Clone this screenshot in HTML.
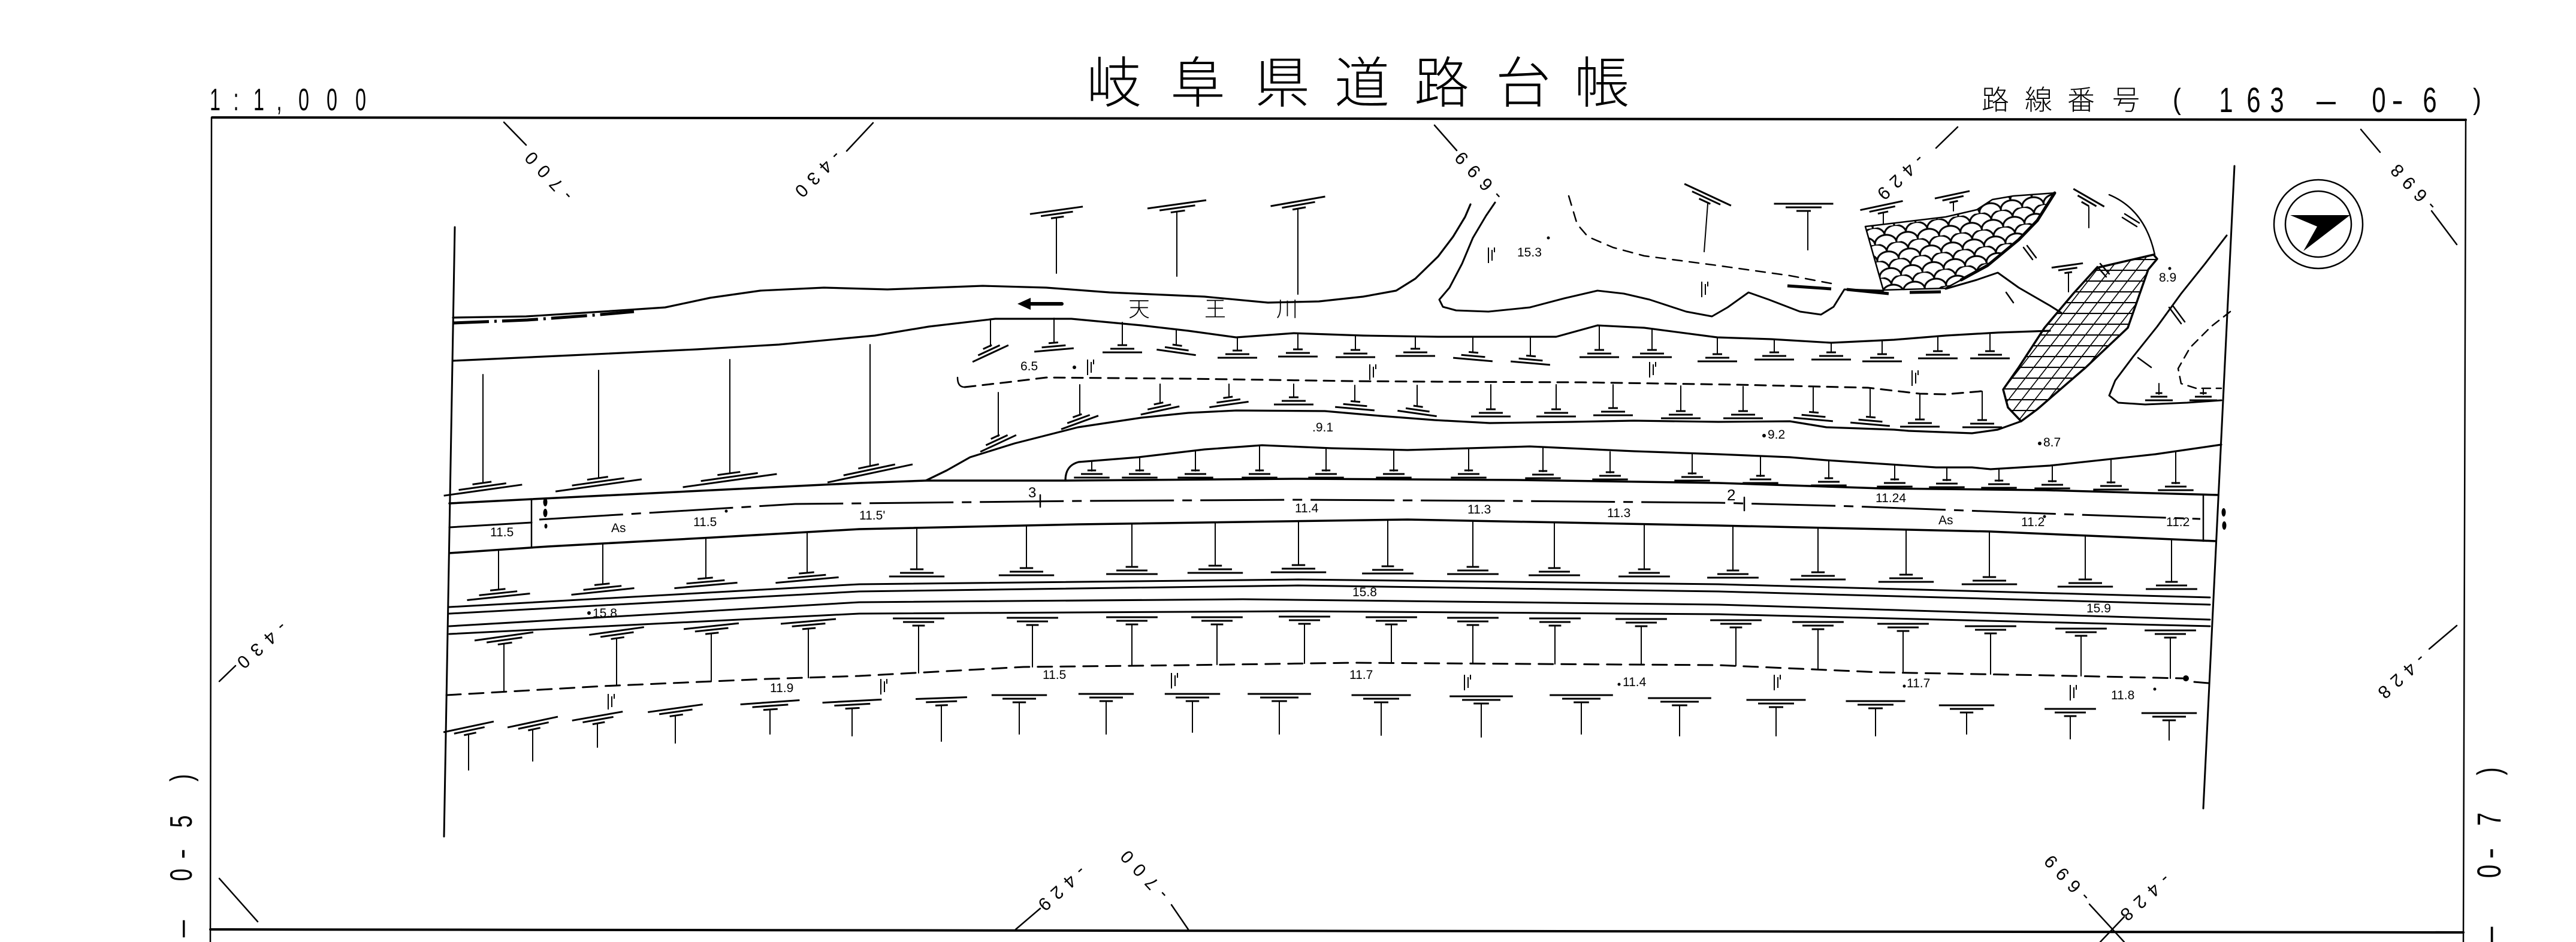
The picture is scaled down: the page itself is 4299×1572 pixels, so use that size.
<!DOCTYPE html>
<html><head><meta charset="utf-8"><style>
html,body{margin:0;padding:0;background:#fff;}
svg{display:block;}
text{font-family:"Liberation Sans","Noto Sans CJK JP",sans-serif;fill:#000;}
.j{font-family:"Noto Sans CJK JP","Liberation Sans",sans-serif;font-weight:300;}
.sm{font-size:21px;}
.tk{font-size:30px;}
</style></head><body>
<svg width="4299" height="1572" viewBox="0 0 4299 1572" xmlns="http://www.w3.org/2000/svg">
<defs>
 <g id="s"><path d="M-33,0H33M-20,-6H20M-8,-12H8"/></g>
 <g id="g"><path d="M0,0V26M6,4V22M10,0V8"/></g>
 <pattern id="fish" width="36" height="28" patternUnits="userSpaceOnUse" patternTransform="rotate(-8)">
  <path d="M0,14 A18,14 0 0 1 36,14 M-18,28 A18,14 0 0 1 18,28 M18,28 A18,14 0 0 1 54,28 M-18,0 A18,14 0 0 1 18,0" fill="none" stroke="#000" stroke-width="3"/>
 </pattern>
 <pattern id="grid" width="22" height="18" patternUnits="userSpaceOnUse" patternTransform="skewX(-38)">
  <path d="M0,0V18M0,0H22" fill="none" stroke="#000" stroke-width="4.2"/>
 </pattern>
</defs>
<rect width="4299" height="1572" fill="#fff"/>

<!-- Titles -->
<g class="j" font-size="92" text-anchor="middle">
 <text x="1859" y="171">岐</text><text x="1999" y="171">阜</text><text x="2140" y="171">県</text><text x="2273" y="171">道</text><text x="2406" y="171">路</text><text x="2542" y="171">台</text><text x="2673" y="171">帳</text>
</g>
<g font-size="52" text-anchor="middle">
 <text transform="translate(359,184) scale(0.62,1)">1</text>
 <text transform="translate(394,184) scale(0.62,1)">:</text>
 <text transform="translate(432,184) scale(0.62,1)">1</text>
 <text transform="translate(466,184) scale(0.62,1)">,</text>
 <text transform="translate(507,184) scale(0.62,1)">0</text>
 <text transform="translate(554,184) scale(0.62,1)">0</text>
 <text transform="translate(602,184) scale(0.62,1)">0</text>
</g>
<g class="j" font-size="46" text-anchor="middle">
 <text x="3330" y="183">路</text><text x="3402" y="183">線</text><text x="3473" y="183">番</text><text x="3548" y="183">号</text>
</g>
<g font-size="58" text-anchor="middle">
 <text transform="translate(3633,182) scale(0.72,0.85)">(</text>
 <text transform="translate(3715,187) scale(0.72,1)">1</text>
 <text transform="translate(3761,187) scale(0.72,1)">6</text>
 <text transform="translate(3800,187) scale(0.72,1)">3</text>
 <text transform="translate(3882,187) scale(0.55,1)">—</text>
 <text transform="translate(3970,187) scale(0.72,1)">0</text>
 <text transform="translate(4001,187) scale(1,1)">-</text>
 <text transform="translate(4055,187) scale(0.72,1)">6</text>
 <text transform="translate(4134,182) scale(0.72,0.85)">)</text>
</g>
<!-- side labels -->
<g font-size="52" text-anchor="middle">
 <text transform="translate(320,1298) rotate(-90) scale(0.72,1)">)</text>
 <text transform="translate(320,1371) rotate(-90) scale(0.72,1)">5</text>
 <text transform="translate(320,1425) rotate(-90) scale(1,1)">-</text>
 <text transform="translate(320,1460) rotate(-90) scale(0.72,1)">0</text>
 <text transform="translate(320,1550) rotate(-90) scale(0.55,1)">—</text>
</g>
<g font-size="56" text-anchor="middle">
 <text transform="translate(4173,1287) rotate(-90) scale(0.72,1)">)</text>
 <text transform="translate(4173,1367) rotate(-90) scale(0.72,1)">7</text>
 <text transform="translate(4173,1424) rotate(-90) scale(1,1)">-</text>
 <text transform="translate(4173,1454) rotate(-90) scale(0.72,1)">0</text>
 <text transform="translate(4173,1562) rotate(-90) scale(0.55,1)">—</text>
</g>

<!-- tick labels -->
<g class="tk" text-anchor="middle" dominant-baseline="central">
 <text transform="translate(916,294) rotate(227)" textLength="100" lengthAdjust="spacing">-700</text>
 <text transform="translate(2468,294) rotate(227)" textLength="100" lengthAdjust="spacing">-699</text>
 <text transform="translate(4028,313) rotate(227)" textLength="95" lengthAdjust="spacing">-698</text>
 <text transform="translate(1910,1460) rotate(227)" textLength="100" lengthAdjust="spacing">-700</text>
 <text transform="translate(3450,1466) rotate(227)" textLength="95" lengthAdjust="spacing">-699</text>
 <text transform="translate(1365,290) rotate(135)" textLength="95" lengthAdjust="spacing">-430</text>
 <text transform="translate(3172,295) rotate(137)" textLength="95" lengthAdjust="spacing">-429</text>
 <text transform="translate(437,1076) rotate(138)" textLength="100" lengthAdjust="spacing">-430</text>
 <text transform="translate(4008,1128) rotate(138)" textLength="95" lengthAdjust="spacing">-428</text>
 <text transform="translate(1772,1482) rotate(138)" textLength="95" lengthAdjust="spacing">-429</text>
 <text transform="translate(3580,1497) rotate(138)" textLength="100" lengthAdjust="spacing">-428</text>
</g>

<g fill="none" stroke="#000" stroke-linejoin="round" stroke-linecap="round">
 <!-- frame -->
 <path d="M354,196 L4115,200" stroke-width="4"/>
 <path d="M353,196 L351,1572" stroke-width="2.5"/>
 <path d="M4115,199 L4111,1572" stroke-width="2.5"/>
 <path d="M351,1551 L4111,1556" stroke-width="4"/>
 <!-- tick lines -->
 <path stroke-width="2.5" d="M841,204L878,242 M2394,209L2431,251 M3940,216L3972,254 M4058,352L4100,408 M1955,1510L1983,1551 M3487,1509L3545,1572 M366,1466L430,1538 M1457,205L1413,252 M3267,212L3231,247 M366,1137L393,1111 M4100,1044L4054,1083 M1736,1516L1695,1551 M3545,1530L3505,1572"/>
 <!-- inner verticals -->
 <path stroke-width="3" d="M759,379 L741,1396 M3729,277 L3677,1349"/>

 <!-- river -->
 <path stroke-width="3.2" d="M756,530 L878,528 L1005,520 L1110,513 L1185,497 L1269,485 L1375,480 L1481,483 L1640,477 L1746,480 L1852,488 L2010,495 L2116,505 L2201,503 L2275,495 L2330,485 L2362,465 L2400,428 L2425,395 L2445,362 L2454,341"/>
 <path stroke-width="5" stroke-linecap="butt" stroke-dasharray="60 9 4 9" d="M756,539 L880,534 L990,526 L1058,520"/>
 <path stroke-width="3.2" d="M756,602 L952,593 L1163,583 L1300,575 L1460,560 L1550,545 L1661,532 L1788,532 L1905,543 L1983,552 L2063,563 L2159,556 L2275,560 L2400,562 L2531,562 L2597,562 L2666,543 L2744,547 L2866,563 L2956,566 L3056,572 L3161,567 L3247,560 L3334,555 L3421,552"/>
 <path stroke-width="2.5" d="M1598,630 Q1598,646 1610,646"/>
 <path stroke-width="3" stroke-dasharray="18 12" d="M1610,646 L1680,638 L1746,630 L1983,632 L2257,636 L2400,637 L2640,638 L2900,642 L3117,647 L3204,657 L3247,658 L3317,652"/>
 <path stroke-width="3.2" d="M1545,802 L1580,785 L1619,763 L1693,740 L1799,713 L1905,697 L1983,689 L2063,685 L2211,686 L2303,694 L2394,701 L2486,706 L2623,704 L2727,702 L2868,704 L2987,703 L3048,713 L3161,717 L3185,719 L3291,723 L3334,717 L3373,703"/>
 <path stroke-width="3.2" d="M1778,802 C1778,785 1785,775 1800,771 L1900,763 L2010,750 L2106,743 L2222,748 L2349,751 L2553,745 L2727,753 L2868,758 L2987,763 L3048,768 L3231,780 L3291,780 L3322,783 L3421,777 L3597,758 L3707,742"/>

 <!-- upper island -->
 <path stroke-width="3" d="M2495,338 L2480,360 L2458,397 L2440,440 L2419,480 L2402,500 L2408,512 L2430,518 L2484,520 L2553,513 L2610,498 L2666,485 L2710,490 L2753,500 L2814,520 L2857,528 L2883,513 L2918,488 L2952,500 L3004,520 L3039,525 L3060,512 L3078,483 L3143,485"/>
 <path stroke-width="3" d="M3247,482 L3299,467 L3334,455 L3369,480 L3421,510 L3440,522"/>
 <path stroke-width="2.5" stroke-dasharray="16 12" d="M2618,327 L2632,374 L2650,395 L2692,413 L2744,427 L2866,443 L2987,460 L3056,473"/>
 <path stroke-width="5" stroke-linecap="butt" d="M2983,477 L3056,482 M3082,483 L3152,490 M3187,488 L3239,487"/>
 <path stroke-width="2.5" d="M3520,325 Q3580,350 3596,425"/>
 <!-- hatched -->
 <path stroke-width="2.5" fill="url(#fish)" d="M3113,378 L3180,370 L3247,362 L3299,350 L3325,333 L3360,327 L3429,322 L3400,368 L3369,400 L3317,443 L3273,467 L3247,481 L3143,484 Z"/>
 <path stroke-width="5" d="M3429,322 L3400,368 L3369,400 L3317,443 L3273,467"/>
 <path stroke-width="3.5" fill="url(#grid)" d="M3594,425 L3600,432 L3585,450 L3551,547 L3481,613 L3400,683 L3373,703 L3351,680 L3343,650 L3369,613 L3412,547 L3460,490 L3499,447 Z"/>
 <!-- lower right island -->
 <path stroke-width="3" d="M3716,393 L3680,440 L3640,490 L3600,545 L3560,595 L3530,635 L3520,660 L3535,672 L3580,675 L3650,672 L3707,668"/>
 <path stroke-width="2.5" stroke-dasharray="14 10" d="M3722,520 L3690,545 L3655,580 L3635,615 L3640,640 L3665,648 L3707,648"/>
 <!-- steep slope ticks -->
 <path stroke-width="2.5" d="M3377,413L3392,433 M3383,410L3398,430 M3542,363L3566,378 M3546,357L3570,372 M3620,513L3640,540 M3626,510L3646,537 M3568,597L3590,613 M3500,445L3515,462 M3505,440L3520,457 M3348,488L3360,505"/>

 <!-- road -->
 <path stroke-width="3.5" d="M750,840 L887,833 L1189,818 L1434,806 L1545,802 L1778,802 L2166,799 L2531,801 L2868,806 L3139,815 L3414,818 L3702,826"/>
 <path stroke-width="3" d="M750,880 L887,872"/>
 <path stroke-width="3" stroke-linecap="butt" stroke-dasharray="140 14 16 14" d="M900,867 L1097,855 L1327,841 L1434,840 L1800,836 L2166,834 L2531,836 L2868,839 L3094,845 L3414,857 L3672,866"/>
 <path stroke-width="3.5" d="M750,923 L914,912 L1189,897 L1434,883 L1800,875 L2349,867 L2868,877 L3322,887 L3697,903"/>
 <path stroke-width="2.5" d="M887,833 L887,912 M3677,826 L3677,903 M1736,826 L1736,846 M2911,830 L2911,852"/>
 <!-- lines below road -->
 <path stroke-width="3" d="M750,1013 L1434,975 L2166,967 L2868,975 L3688,997"/>
 <path stroke-width="3" d="M750,1024 L1434,987 L2166,977 L2868,987 L3688,1009"/>
 <path stroke-width="3" d="M750,1045 L1434,1005 L2074,1000 L2868,1009 L3688,1034"/>
 <path stroke-width="3" d="M750,1058 L1434,1024 L2166,1020 L2868,1025 L3688,1045"/>
 <path stroke-width="3" stroke-dasharray="24 14" d="M745,1160 L1006,1145 L1280,1133 L1434,1128 L1708,1113 L1983,1110 L2257,1106 L2868,1110 L3139,1122 L3414,1127 L3642,1132"/>
 <path stroke-width="3" d="M3662,1138 L3686,1140"/>

 <!-- compass -->
 <circle cx="3869" cy="374" r="74" stroke-width="2.5"/>
 <circle cx="3869" cy="374" r="55" stroke-width="2.5"/>

 <!-- river arrow -->
 <path stroke-width="6" d="M1712,507 L1772,507"/>

 <!-- stems -->
 <path stroke-width="2" d="
 M1763,363V456 M1964,353V461 M2166,348V491 M2850,340L2844,420 M3017,352V417 M3143,355V373 M3260,337V352 M3486,345V380 M3452,455V487
 M1653,533V578 M1759,531V572 M1873,538V576 M1963,550V576 M2065,563V585 M2166,556V583 M2262,560V584 M2362,561V582 M2458,562V588 M2554,562V594 M2669,543V584 M2757,549V584 M2866,563V591 M2961,566V588 M3056,572V588 M3141,568V591 M3234,561V586 M3321,556V586
 M1666,655V728 M1802,642V693 M1936,641V673 M2051,641V663 M2159,641V663 M2261,643V670 M2365,643V678 M2488,642V683 M2597,642V683 M2692,642V681 M2805,644V686 M2909,645V686 M3026,647V688 M3121,648V696 M3204,657V700 M3308,653V701
 M1822,770V786 M1902,763V786 M1995,752V786 M2102,743V786 M2213,747V786 M2326,750V786 M2451,749V786 M2575,746V787 M2687,754V789 M2824,757V791 M2938,761V795 M3052,768V799 M3162,775V801 M3249,781V802 M3336,782V803 M3425,777V804 M3523,767V806 M3631,754V807
 M806,625V806 M999,618V798 M1218,600V790 M1452,575V778
 M832,918V984 M1006,907V975 M1178,898V965 M1347,888V956 M1530,881V950 M1713,877V948 M1889,874V946 M2028,872V944 M2167,870V943 M2316,868V945 M2458,869V946 M2594,871V948 M2744,874V950 M2892,877V952 M3034,880V955 M3181,884V959 M3320,887V963 M3480,893V967 M3624,900V971
 M841,1074V1154 M1029,1065V1144 M1187,1057V1137 M1349,1049V1131 M1533,1044V1123 M1723,1043V1113 M1889,1042V1111 M2031,1042V1109 M2177,1041V1107 M2322,1042V1106 M2458,1043V1107 M2595,1044V1108 M2739,1045V1109 M2897,1047V1111 M3034,1050V1117 M3176,1053V1123 M3322,1057V1125 M3473,1061V1128 M3622,1064V1132
 M782,1225V1285 M889,1217V1270 M997,1207V1247 M1127,1194V1240 M1285,1184V1225 M1422,1182V1228 M1571,1177V1237 M1701,1172V1225 M1846,1170V1225 M1990,1170V1222 M2135,1170V1225 M2305,1172V1227 M2472,1174V1230 M2639,1172V1225 M2803,1177V1228 M2964,1180V1228 M3130,1182V1228 M3282,1189V1225 M3455,1195V1233 M3620,1202V1235
 M3603,640V658 M3677,648V658"/>
</g>

<!-- compass arrow -->
<path d="M3822,359 L3922,359 L3844,419 L3867,378 Z" fill="#000"/>
<!-- river arrow head -->
<path d="M1698,507 L1720,497 L1720,517 Z" fill="#000"/>
<!-- blobs -->
<g fill="#000">
 <ellipse cx="910" cy="838" rx="3.5" ry="7"/><ellipse cx="910" cy="856" rx="3.5" ry="7"/><ellipse cx="911" cy="878" rx="2.5" ry="4"/>
 <ellipse cx="3711" cy="855" rx="3.5" ry="7"/><ellipse cx="3712" cy="877" rx="3.5" ry="7"/>
 <ellipse cx="3648" cy="1132" rx="5" ry="5"/>
 <circle cx="1793" cy="613" r="3"/><circle cx="1212" cy="853" r="2.5"/><circle cx="983" cy="1023" r="3"/>
 <circle cx="2944" cy="727" r="3"/><circle cx="3404" cy="740" r="3"/><circle cx="3621" cy="448" r="2.5"/><circle cx="2584" cy="397" r="2.5"/>
 <circle cx="3596" cy="1150" r="2.5"/><circle cx="3412" cy="862" r="2.5"/><circle cx="2702" cy="1142" r="2.5"/><circle cx="3178" cy="1145" r="2.5"/>
</g>

<!-- slope symbols -->
<g fill="none" stroke="#000" stroke-width="3">
 <!-- R1 -->
 <use href="#s" transform="translate(1763,351) rotate(-8) scale(1.35,-1)"/>
 <use href="#s" transform="translate(1964,341) rotate(-8) scale(1.5,-1)"/>
 <use href="#s" transform="translate(2166,336) rotate(-10) scale(1.4,-1)"/>
 <use href="#s" transform="translate(2850,325) rotate(25) scale(1.3,-1)"/>
 <use href="#s" transform="translate(3010,340) scale(1.5,-1)"/>
 <use href="#s" transform="translate(3140,343) rotate(-12) scale(1.1,-1)"/>
 <use href="#s" transform="translate(3258,325) rotate(-12) scale(0.9,-1)"/>
 <use href="#s" transform="translate(3486,330) rotate(30) scale(0.9,-1)"/>
 <use href="#s" transform="translate(3450,443) rotate(-8) scale(0.8,-1)"/>
 <!-- R2 -->
 <use href="#s" transform="translate(1653,590) rotate(-25)"/>
 <use href="#s" transform="translate(1759,584) rotate(-5)"/>
 <use href="#s" transform="translate(1873,588)"/>
 <use href="#s" transform="translate(1963,588) rotate(8)"/>
 <use href="#s" transform="translate(2065,597)"/>
 <use href="#s" transform="translate(2166,595)"/>
 <use href="#s" transform="translate(2262,596)"/>
 <use href="#s" transform="translate(2362,594)"/>
 <use href="#s" transform="translate(2458,600) rotate(5)"/>
 <use href="#s" transform="translate(2554,606) rotate(5)"/>
 <use href="#s" transform="translate(2669,596)"/>
 <use href="#s" transform="translate(2757,596)"/>
 <use href="#s" transform="translate(2866,603)"/>
 <use href="#s" transform="translate(2961,600)"/>
 <use href="#s" transform="translate(3056,600)"/>
 <use href="#s" transform="translate(3141,603)"/>
 <use href="#s" transform="translate(3234,598)"/>
 <use href="#s" transform="translate(3321,598)"/>
 <!-- R3 -->
 <use href="#s" transform="translate(1666,740) rotate(-25)"/>
 <use href="#s" transform="translate(1802,705) rotate(-20)"/>
 <use href="#s" transform="translate(1936,685) rotate(-12)"/>
 <use href="#s" transform="translate(2051,675) rotate(-8)"/>
 <use href="#s" transform="translate(2159,675)"/>
 <use href="#s" transform="translate(2261,682) rotate(5)"/>
 <use href="#s" transform="translate(2365,690) rotate(8)"/>
 <use href="#s" transform="translate(2488,695)"/>
 <use href="#s" transform="translate(2597,695)"/>
 <use href="#s" transform="translate(2692,693)"/>
 <use href="#s" transform="translate(2805,698)"/>
 <use href="#s" transform="translate(2909,698)"/>
 <use href="#s" transform="translate(3026,700) rotate(5)"/>
 <use href="#s" transform="translate(3121,708) rotate(5)"/>
 <use href="#s" transform="translate(3204,712)"/>
 <use href="#s" transform="translate(3308,713)"/>
 <!-- R4 -->
 <use href="#s" transform="translate(1822,797) scale(0.9,1)"/>
 <use href="#s" transform="translate(1902,797) scale(0.9,1)"/>
 <use href="#s" transform="translate(1995,797) scale(0.9,1)"/>
 <use href="#s" transform="translate(2102,797) scale(0.9,1)"/>
 <use href="#s" transform="translate(2213,797) scale(0.9,1)"/>
 <use href="#s" transform="translate(2326,797) scale(0.9,1)"/>
 <use href="#s" transform="translate(2451,797) scale(0.9,1)"/>
 <use href="#s" transform="translate(2575,798) scale(0.9,1)"/>
 <use href="#s" transform="translate(2687,800) scale(0.9,1)"/>
 <use href="#s" transform="translate(2824,802) scale(0.9,1)"/>
 <use href="#s" transform="translate(2938,806) scale(0.9,1)"/>
 <use href="#s" transform="translate(3052,810) scale(0.9,1)"/>
 <use href="#s" transform="translate(3162,812) scale(0.9,1)"/>
 <use href="#s" transform="translate(3249,813) scale(0.9,1)"/>
 <use href="#s" transform="translate(3336,814) scale(0.9,1)"/>
 <use href="#s" transform="translate(3425,815) scale(0.9,1)"/>
 <use href="#s" transform="translate(3523,817) scale(0.9,1)"/>
 <use href="#s" transform="translate(3631,818) scale(0.9,1)"/>
 <!-- R5 -->
 <use href="#s" transform="translate(806,818) rotate(-8) scale(2,1)"/>
 <use href="#s" transform="translate(999,810) rotate(-8) scale(2.2,1)"/>
 <use href="#s" transform="translate(1218,802) rotate(-8) scale(2.4,1)"/>
 <use href="#s" transform="translate(1452,790) rotate(-12) scale(2.2,1)"/>
 <!-- R6 -->
 <use href="#s" transform="translate(832,996) rotate(-6) scale(1.6,1)"/>
 <use href="#s" transform="translate(1006,987) rotate(-6) scale(1.6,1)"/>
 <use href="#s" transform="translate(1178,977) rotate(-5) scale(1.6,1)"/>
 <use href="#s" transform="translate(1347,968) rotate(-5) scale(1.6,1)"/>
 <use href="#s" transform="translate(1530,962) scale(1.4,1)"/>
 <use href="#s" transform="translate(1713,960) scale(1.4,1)"/>
 <use href="#s" transform="translate(1889,958) scale(1.3,1)"/>
 <use href="#s" transform="translate(2028,956) scale(1.4,1)"/>
 <use href="#s" transform="translate(2167,955) scale(1.4,1)"/>
 <use href="#s" transform="translate(2316,957) scale(1.3,1)"/>
 <use href="#s" transform="translate(2458,958) scale(1.3,1)"/>
 <use href="#s" transform="translate(2594,960) scale(1.3,1)"/>
 <use href="#s" transform="translate(2744,962) scale(1.3,1)"/>
 <use href="#s" transform="translate(2892,964) scale(1.3,1)"/>
 <use href="#s" transform="translate(3034,967) scale(1.4,1)"/>
 <use href="#s" transform="translate(3181,971) scale(1.4,1)"/>
 <use href="#s" transform="translate(3320,975) scale(1.4,1)"/>
 <use href="#s" transform="translate(3480,979) scale(1.4,1)"/>
 <use href="#s" transform="translate(3624,983) scale(1.3,1)"/>
 <!-- R7 -->
 <use href="#s" transform="translate(841,1062) rotate(-8) scale(1.5,-1)"/>
 <use href="#s" transform="translate(1029,1053) rotate(-8) scale(1.4,-1)"/>
 <use href="#s" transform="translate(1187,1045) rotate(-6) scale(1.4,-1)"/>
 <use href="#s" transform="translate(1349,1037) rotate(-5) scale(1.4,-1)"/>
 <use href="#s" transform="translate(1533,1032) scale(1.3,-1)"/>
 <use href="#s" transform="translate(1723,1031) scale(1.3,-1)"/>
 <use href="#s" transform="translate(1889,1030) scale(1.3,-1)"/>
 <use href="#s" transform="translate(2031,1030) scale(1.3,-1)"/>
 <use href="#s" transform="translate(2177,1029) scale(1.3,-1)"/>
 <use href="#s" transform="translate(2322,1030) scale(1.3,-1)"/>
 <use href="#s" transform="translate(2458,1031) scale(1.3,-1)"/>
 <use href="#s" transform="translate(2595,1032) scale(1.3,-1)"/>
 <use href="#s" transform="translate(2739,1033) scale(1.3,-1)"/>
 <use href="#s" transform="translate(2897,1035) scale(1.3,-1)"/>
 <use href="#s" transform="translate(3034,1038) scale(1.3,-1)"/>
 <use href="#s" transform="translate(3176,1041) scale(1.3,-1)"/>
 <use href="#s" transform="translate(3322,1045) scale(1.3,-1)"/>
 <use href="#s" transform="translate(3473,1049) scale(1.3,-1)"/>
 <use href="#s" transform="translate(3622,1052) scale(1.3,-1)"/>
 <!-- R8 -->
 <use href="#s" transform="translate(782,1213) rotate(-12) scale(1.3,-1)"/>
 <use href="#s" transform="translate(889,1205) rotate(-12) scale(1.3,-1)"/>
 <use href="#s" transform="translate(997,1195) rotate(-10) scale(1.3,-1)"/>
 <use href="#s" transform="translate(1127,1182) rotate(-8) scale(1.4,-1)"/>
 <use href="#s" transform="translate(1285,1172) rotate(-4) scale(1.5,-1)"/>
 <use href="#s" transform="translate(1422,1170) rotate(-3) scale(1.5,-1)"/>
 <use href="#s" transform="translate(1571,1165) rotate(-2) scale(1.3,-1)"/>
 <use href="#s" transform="translate(1701,1160) scale(1.4,-1)"/>
 <use href="#s" transform="translate(1846,1158) scale(1.4,-1)"/>
 <use href="#s" transform="translate(1990,1158) scale(1.4,-1)"/>
 <use href="#s" transform="translate(2135,1158) scale(1.6,-1)"/>
 <use href="#s" transform="translate(2305,1160) scale(1.5,-1)"/>
 <use href="#s" transform="translate(2472,1162) scale(1.6,-1)"/>
 <use href="#s" transform="translate(2639,1160) scale(1.6,-1)"/>
 <use href="#s" transform="translate(2803,1165) scale(1.6,-1)"/>
 <use href="#s" transform="translate(2964,1168) scale(1.5,-1)"/>
 <use href="#s" transform="translate(3130,1170) scale(1.5,-1)"/>
 <use href="#s" transform="translate(3282,1177) scale(1.4,-1)"/>
 <use href="#s" transform="translate(3455,1183) scale(1.3,-1)"/>
 <use href="#s" transform="translate(3620,1190) scale(1.4,-1)"/>
 <!-- right island -->
 <use href="#s" transform="translate(3603,668) scale(0.7,1)"/>
 <use href="#s" transform="translate(3677,668) scale(0.7,1)"/>
</g>

<!-- grass marks -->
<g fill="none" stroke="#000" stroke-width="2">
 <use href="#g" x="2484" y="413"/><use href="#g" x="2840" y="470"/><use href="#g" x="1815" y="600"/><use href="#g" x="2286" y="608"/>
 <use href="#g" x="2753" y="604"/><use href="#g" x="3191" y="618"/><use href="#g" x="1015" y="1158"/><use href="#g" x="1470" y="1133"/>
 <use href="#g" x="1955" y="1123"/><use href="#g" x="2444" y="1126"/><use href="#g" x="2961" y="1126"/><use href="#g" x="3455" y="1143"/>
</g>

<!-- river name -->
<g class="j" font-size="36" text-anchor="middle">
 <text x="1901" y="528">天</text><text x="2028" y="528">王</text><text x="2148" y="528">川</text>
</g>

<!-- small labels -->
<g class="sm">
 <text x="818" y="895">11.5</text>
 <text x="1020" y="888">As</text>
 <text x="1157" y="878">11.5</text>
 <text x="1434" y="867">11.5'</text>
 <text x="2161" y="855">11.4</text>
 <text x="2449" y="857">11.3</text>
 <text x="2682" y="863">11.3</text>
 <text x="3130" y="838">11.24</text>
 <text x="3235" y="875">As</text>
 <text x="3373" y="878">11.2</text>
 <text x="3615" y="878">11.2</text>
 <text x="1716" y="830" font-size="24">3</text>
 <text x="2882" y="835" font-size="26">2</text>
 <text x="989" y="1030">15.8</text>
 <text x="2257" y="995">15.8</text>
 <text x="3482" y="1022">15.9</text>
 <text x="1703" y="618">6.5</text>
 <text x="2532" y="428">15.3</text>
 <text x="2190" y="720">.9.1</text>
 <text x="2950" y="732">9.2</text>
 <text x="3410" y="745">8.7</text>
 <text x="3603" y="470">8.9</text>
 <text x="1285" y="1155">11.9</text>
 <text x="1740" y="1133">11.5</text>
 <text x="2252" y="1133">11.7</text>
 <text x="2708" y="1145">11.4</text>
 <text x="3182" y="1147">11.7</text>
 <text x="3523" y="1167">11.8</text>
</g>
</svg>
</body></html>
